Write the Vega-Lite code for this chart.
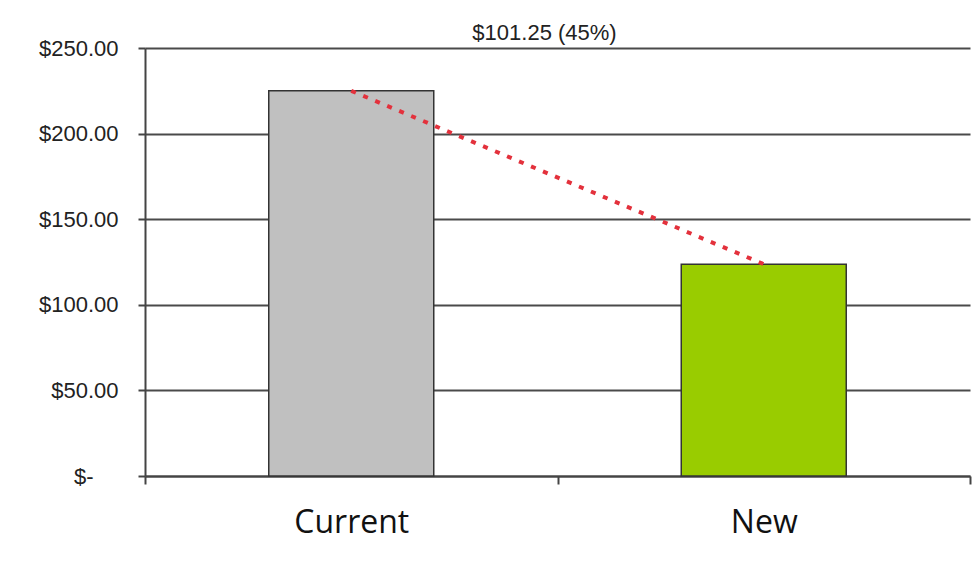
{
  "$schema": "https://vega.github.io/schema/vega-lite/v6.json",
  "width": 825,
  "height": 428,
  "autosize": {"type": "none"},
  "padding": {"left": 145, "top": 48, "right": 8, "bottom": 89},
  "background": "#ffffff",
  "config": {
    "view": {"stroke": null},
    "font": "Liberation Sans"
  },
  "title": {
    "text": "$101.25 (45%)",
    "fontSize": 22,
    "fontWeight": "normal",
    "font": "Liberation Sans",
    "color": "#222222",
    "anchor": "middle",
    "offset": -8,
    "dx": -13
  },
  "data": {
    "values": [
      {"plan": "Current", "cost": 225.0},
      {"plan": "New", "cost": 123.75}
    ]
  },
  "encoding": {
    "x": {
      "field": "plan",
      "type": "nominal",
      "sort": ["Current", "New"],
      "scale": {"paddingInner": 0, "paddingOuter": 0},
      "axis": {
        "title": null,
        "labelAngle": 0,
        "tickBand": "extent",
        "domainColor": "#444444",
        "domainWidth": 2,
        "tickColor": "#444444",
        "tickWidth": 2,
        "tickSize": 8,
        "labelFont": "Open Sans",
        "labelFontSize": 32,
        "labelColor": "#111111",
        "labelPadding": 23
      }
    },
    "y": {
      "field": "cost",
      "type": "quantitative",
      "scale": {"domain": [0, 250], "nice": false},
      "axis": {
        "title": null,
        "values": [0, 50, 100, 150, 200, 250],
        "labelExpr": "datum.value == 0 ? '$-' : '$' + format(datum.value, '.2f')",
        "grid": true,
        "gridColor": "#4a4a4a",
        "gridWidth": 2,
        "domainColor": "#444444",
        "domainWidth": 2,
        "tickColor": "#444444",
        "tickWidth": 2,
        "tickSize": 7,
        "labelFontSize": 22,
        "labelColor": "#222222",
        "labelPadding": {"condition": {"test": "datum.value == 0", "value": 45}, "value": 20}
      }
    }
  },
  "layer": [
    {
      "mark": {"type": "bar", "width": {"band": 0.4}, "stroke": "#333333", "strokeWidth": 1.5},
      "encoding": {
        "color": {
          "field": "plan",
          "type": "nominal",
          "scale": {"domain": ["Current", "New"], "range": ["#c0c0c0", "#99cc00"]},
          "legend": null
        }
      }
    },
    {
      "mark": {"type": "line", "color": "#e3313c", "strokeWidth": 4, "strokeDash": [5, 8]},
      "encoding": {}
    }
  ]
}
